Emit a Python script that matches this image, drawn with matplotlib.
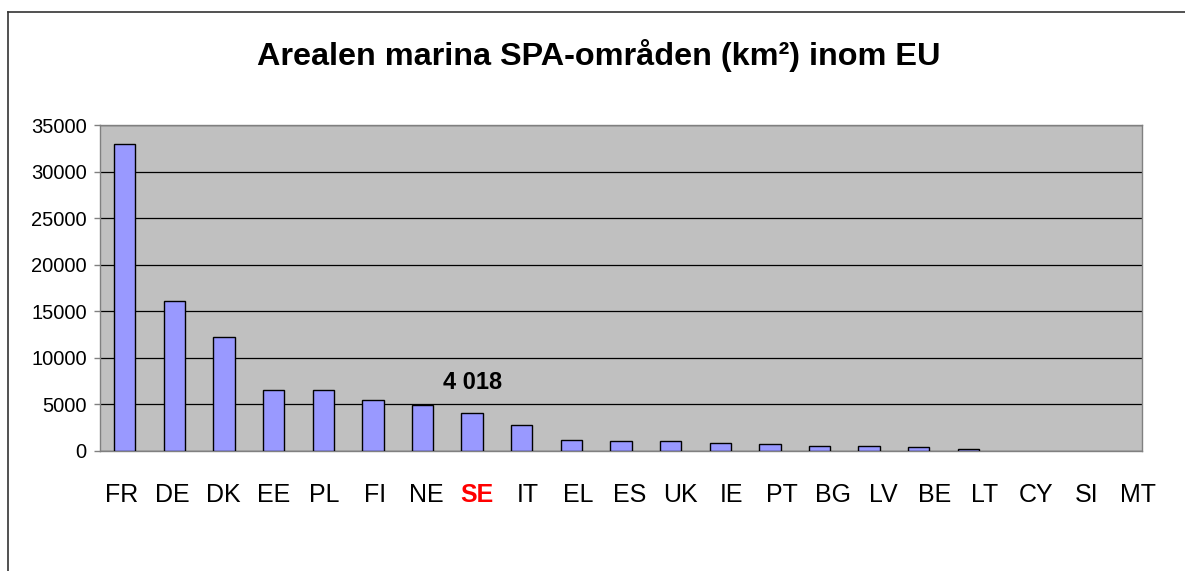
import matplotlib
matplotlib.use("Agg")
import matplotlib.pyplot as plt
from matplotlib.lines import Line2D
import numpy as np

plt.rcParams['font.family'] = ['Liberation Sans', 'DejaVu Sans']

countries = ["FR", "DE", "DK", "EE", "PL", "FI", "NE", "SE", "IT", "EL", "ES",
             "UK", "IE", "PT", "BG", "LV", "BE", "LT", "CY", "SI", "MT"]
area_km2 = [33000, 16100, 12200, 6500, 6500, 5500, 4900, 4018, 2750, 1120, 1000,
            1000, 850, 700, 530, 530, 360, 200, 0, 0, 0]
highlight = "SE"
yticks = [0, 5000, 10000, 15000, 20000, 25000, 30000, 35000]
title = "Arealen marina SPA-områden (km²) inom EU"

W, H = 1185, 571
fig = plt.figure(figsize=(W / 100, H / 100), dpi=100)
fig.patch.set_facecolor("white")

left, right, top, bottom = 100, 1142, 125, 450.7
ax = fig.add_axes([left / W, 1 - bottom / H, (right - left) / W, (bottom - top) / H])
ax.set_facecolor("#C0C0C0")

x = np.arange(len(countries))
lws = [1.0 if v > 0 else 0.0 for v in area_km2]
ax.bar(x, area_km2, width=0.43, color="#9999FF", edgecolor="black", linewidth=lws, zorder=3)

ax.set_xlim(-0.5, len(countries) - 0.5)
ax.set_ylim(0, 35000)
ax.set_yticks(yticks)
ax.set_yticklabels([str(t) for t in yticks], fontsize=14.5)
ax.yaxis.grid(True, color="black", linewidth=0.9, zorder=1)
ax.set_axisbelow(True)
ax.tick_params(axis="y", length=4, width=1, pad=5.5, color="#808080")
# category labels are spread slightly wider than the bars in the original
ax.set_xticks(x * 1.024 - 0.07)
ax.set_xticklabels(countries, fontsize=18)
ax.tick_params(axis="x", length=0, pad=23)
for lbl in ax.get_xticklabels():
    if lbl.get_text() == highlight:
        lbl.set_color("red")
        lbl.set_fontweight("bold")

for s in ax.spines.values():
    s.set_color("#808080")
    s.set_linewidth(1.0)

# value annotation for highlighted country
i = countries.index(highlight)
v = area_km2[i]
ax.annotate(f"{v:,}".replace(",", " "), xy=(x[i], v), xytext=(0, 22),
            textcoords="offset points", ha="center", va="center",
            fontsize=17, fontweight="bold", zorder=5)

fig.text(599 / W, 1 - 55 / H, title, ha="center", va="center",
         fontsize=23.3, fontweight="bold")

# chart-area frame (left and top visible)
fig.add_artist(Line2D([8 / W, 8 / W], [0, 1 - 11.7 / H], color="#333333", linewidth=1.2,
                      transform=fig.transFigure))
fig.add_artist(Line2D([8 / W, 1], [1 - 11.7 / H, 1 - 11.7 / H], color="#333333", linewidth=1.2,
                      transform=fig.transFigure))

fig.savefig("out.png", dpi=100)
